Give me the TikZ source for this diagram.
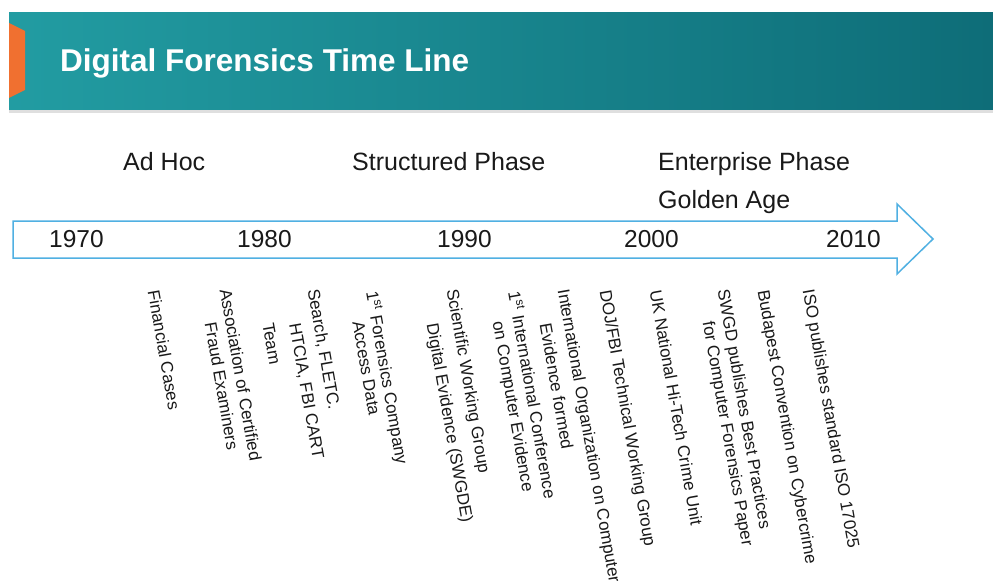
\documentclass[tikz,border=0pt]{standalone}
\usepackage{fontspec}
\setmainfont{Liberation Sans}
\definecolor{tealL}{RGB}{34,156,162}
\definecolor{tealR}{RGB}{14,109,120}
\definecolor{tabor}{RGB}{240,112,48}
\definecolor{arrowblue}{RGB}{80,176,226}
\definecolor{txt}{RGB}{25,25,25}
\begin{document}
\begin{tikzpicture}[x=1pt,y=-1pt,
  evt/.style={rotate=-80, anchor=north west, inner sep=0pt, font=\fontsize{17}{20}\selectfont, text=txt},
  yr/.style={anchor=base west, inner sep=0pt, font=\fontsize{24.5}{28}\selectfont, text=txt},
  phase/.style={anchor=base west, inner sep=0pt, font=\fontsize{25}{30}\selectfont, text=txt}]
\useasboundingbox (0,0) rectangle (993,583);
\fill[white] (0,0) rectangle (993,583);
% title bar
\shade[left color=tealL, right color=tealR] (9,13) rectangle (993,110);
\fill[gray!25] (9,110) rectangle (993,113);
\fill[tabor] (9,23) -- (25,31) -- (25,90) -- (9,98) -- cycle;
\node[anchor=base west, inner sep=0pt, text=white, font=\fontsize{31.5}{38}\selectfont\bfseries] (title) at (60,72) {Digital Forensics Time Line};
% phases
\node[phase] (adhoc) at (123,171) {Ad Hoc};
\node[phase] (struct) at (352,171) {Structured Phase};
\node[phase] (enter) at (658,171) {Enterprise Phase};
\node[phase] (golden) at (658,208) {Golden Age};
% arrow
\draw[arrowblue, line width=1.5pt, fill=white, line join=miter]
  (13,221) -- (897,221) -- (897,204) -- (933,239) -- (897,274) -- (897,258) -- (13,258) -- cycle;
% years
\node[yr] (y1970) at (49,247) {1970};
\node[yr] (y1980) at (237,247) {1980};
\node[yr] (y1990) at (437,247) {1990};
\node[yr] (y2000) at (624,247) {2000};
\node[yr] (y2010) at (826,247) {2010};
% events
\begin{scope}[xshift=12pt]
\node[evt] (e1) at (148,289) {Financial Cases};
\node[evt] (e2a) at (220,288) {Association of Certified};
\node[evt] (e2b) at (205,321) {Fraud Examiners};
\node[evt] (e3c) at (262,322) {Team};
\node[evt] (e3b) at (289,322) {HTCIA, FBI CART};
\node[evt] (e3a) at (308,288) {Search, FLETC.};
\node[evt] (e4a) at (368,290) {1\textsuperscript{st} Forensics Company};
\node[evt] (e4b) at (352,320) {Access Data};
\node[evt] (e5a) at (447,288) {Scientific Working Group};
\node[evt] (e5b) at (427,322) {Digital Evidence (SWGDE)};
\node[evt] (e6a) at (510,290) {1\textsuperscript{st} International Conference};
\node[evt] (e6b) at (493,320) {on Computer Evidence};
\node[evt] (e7a) at (558,288) {International Organization on Computer};
\node[evt] (e7b) at (540,322) {Evidence formed};
\node[evt] (e8) at (600,289) {DOJ/FBI Technical Working Group};
\node[evt] (e9) at (650,289) {UK National Hi-Tech Crime Unit};
\node[evt] (e10a) at (718,288) {SWGD publishes Best Practices};
\node[evt] (e10b) at (703,320) {for Computer Forensics Paper};
\node[evt] (e11) at (758,289) {Budapest Convention on Cybercrime};
\node[evt] (e12) at (803,288) {ISO publishes standard ISO 17025};
\end{scope}
\end{tikzpicture}
\end{document}
